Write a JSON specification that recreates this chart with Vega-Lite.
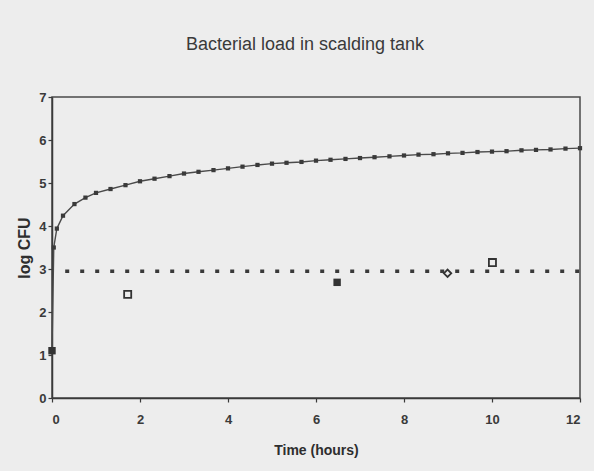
{
  "$schema": "https://vega.github.io/schema/vega-lite/v6.json",
  "autosize": {"type": "none"},
  "width": 528,
  "height": 301,
  "padding": {"left": 52, "top": 97, "right": 14, "bottom": 73},
  "background": "#ededed",
  "title": {
    "text": "Bacterial load in scalding tank",
    "font": "Liberation Sans Narrow, Liberation Sans, sans-serif",
    "fontSize": 18,
    "fontWeight": "normal",
    "color": "#3a3a3a",
    "anchor": "middle",
    "offset": 37,
    "dx": -11
  },
  "config": {
    "view": {"stroke": "#4a4a4a", "strokeWidth": 1.5},
    "axis": {
      "grid": false,
      "domainColor": "#3a3a3a",
      "domainWidth": 1.5,
      "tickColor": "#3a3a3a",
      "tickSize": 4,
      "tickWidth": 1.2,
      "labelFont": "Liberation Sans, sans-serif",
      "labelFontSize": 13,
      "labelFontWeight": "bold",
      "labelColor": "#3a3a3a",
      "titleFont": "Liberation Sans Narrow, Liberation Sans, sans-serif",
      "titleColor": "#2e2e2e",
      "titleFontWeight": "bold"
    }
  },
  "datasets": {
    "model": [
      {"t": 0, "logcfu": 1.1},
      {"t": 0.04, "logcfu": 3.5},
      {"t": 0.11, "logcfu": 3.94},
      {"t": 0.25, "logcfu": 4.24},
      {"t": 0.51, "logcfu": 4.51},
      {"t": 0.76, "logcfu": 4.66},
      {"t": 1.0, "logcfu": 4.77},
      {"t": 1.33, "logcfu": 4.86},
      {"t": 1.67, "logcfu": 4.95},
      {"t": 2.0, "logcfu": 5.04},
      {"t": 2.33, "logcfu": 5.1},
      {"t": 2.67, "logcfu": 5.16},
      {"t": 3.0, "logcfu": 5.22},
      {"t": 3.33, "logcfu": 5.26},
      {"t": 3.67, "logcfu": 5.3},
      {"t": 4.0, "logcfu": 5.34},
      {"t": 4.33, "logcfu": 5.38},
      {"t": 4.67, "logcfu": 5.42},
      {"t": 5.0, "logcfu": 5.45},
      {"t": 5.33, "logcfu": 5.47},
      {"t": 5.67, "logcfu": 5.49},
      {"t": 6.0, "logcfu": 5.52},
      {"t": 6.33, "logcfu": 5.54},
      {"t": 6.67, "logcfu": 5.56},
      {"t": 7.0, "logcfu": 5.58},
      {"t": 7.33, "logcfu": 5.6},
      {"t": 7.67, "logcfu": 5.62},
      {"t": 8.0, "logcfu": 5.64},
      {"t": 8.33, "logcfu": 5.66},
      {"t": 8.67, "logcfu": 5.67},
      {"t": 9.0, "logcfu": 5.69},
      {"t": 9.33, "logcfu": 5.7},
      {"t": 9.67, "logcfu": 5.72},
      {"t": 10.0, "logcfu": 5.73},
      {"t": 10.33, "logcfu": 5.74},
      {"t": 10.67, "logcfu": 5.76},
      {"t": 11.0, "logcfu": 5.77},
      {"t": 11.33, "logcfu": 5.78},
      {"t": 11.67, "logcfu": 5.8},
      {"t": 12.0, "logcfu": 5.81}
    ],
    "limit": [
      {"t": 0.3, "t2": 12, "logcfu": 2.95}
    ],
    "observed": [
      {"t": 0, "logcfu": 1.1, "marker": "filled square"},
      {"t": 1.72, "logcfu": 2.41, "marker": "open square"},
      {"t": 6.48, "logcfu": 2.69, "marker": "filled square"},
      {"t": 8.99, "logcfu": 2.9, "marker": "open diamond"},
      {"t": 10.01, "logcfu": 3.15, "marker": "open square"}
    ]
  },
  "encoding": {
    "x": {
      "field": "t",
      "type": "quantitative",
      "scale": {"domain": [0, 12], "nice": false, "zero": false},
      "axis": {"values": [0, 2, 4, 6, 8, 10, 12], "title": "Time (hours)", "titleFontSize": 14, "labelPadding": 11, "titlePadding": 17}
    },
    "y": {
      "field": "logcfu",
      "type": "quantitative",
      "scale": {"domain": [0, 7], "nice": false},
      "axis": {"values": [0, 1, 2, 3, 4, 5, 6, 7], "title": "log CFU", "titleFontSize": 16, "titleFont": "Liberation Sans, sans-serif", "labelPadding": 2, "titlePadding": 6}
    }
  },
  "layer": [
    {
      "data": {"name": "limit"},
      "mark": {"type": "rule", "color": "#3a3a3a", "strokeWidth": 3.5, "strokeDash": [4, 11]},
      "encoding": {"x2": {"field": "t2"}}
    },
    {
      "data": {"name": "model"},
      "mark": {"type": "line", "color": "#4a4a4a", "strokeWidth": 1.4, "point": {"shape": "square", "size": 18, "filled": true, "color": "#3a3a3a"}}
    },
    {
      "data": {"name": "observed"},
      "transform": [{"filter": "datum.marker === 'filled square'"}],
      "mark": {"type": "point", "shape": "square", "size": 55, "filled": true, "color": "#333333", "opacity": 1}
    },
    {
      "data": {"name": "observed"},
      "transform": [{"filter": "datum.marker === 'open square'"}],
      "mark": {"type": "point", "shape": "square", "size": 50, "filled": false, "stroke": "#333333", "strokeWidth": 1.8, "opacity": 1}
    },
    {
      "data": {"name": "observed"},
      "transform": [{"filter": "datum.marker === 'open diamond'"}],
      "mark": {"type": "point", "shape": "diamond", "size": 55, "filled": false, "stroke": "#333333", "strokeWidth": 1.8, "opacity": 1}
    }
  ]
}
